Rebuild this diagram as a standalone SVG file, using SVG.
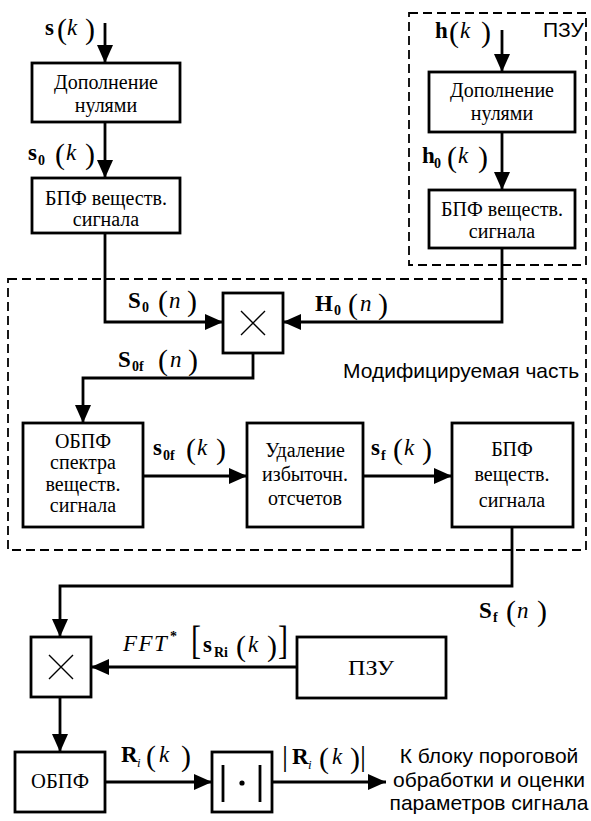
<svg xmlns="http://www.w3.org/2000/svg" width="591" height="821" viewBox="0 0 591 821">
<style>
.box{fill:#fff;stroke:#000;stroke-width:2.8}
.dash{fill:none;stroke:#000;stroke-width:1.8;stroke-dasharray:9 5}
.ln{fill:none;stroke:#000;stroke-width:2.8}
.thin{fill:none;stroke:#000;stroke-width:1.4}
.bt{font-family:"Liberation Serif","DejaVu Serif","Times New Roman",serif;font-size:20px;fill:#000;text-anchor:middle}
.st{font-family:"Liberation Sans",Arial,sans-serif;font-size:21px;fill:#000}
.mb{font-family:"Liberation Serif",serif;font-weight:bold;font-size:23px}
.mi{font-family:"Liberation Serif",serif;font-style:italic;font-size:23px}
.mp{font-family:"Liberation Serif",serif;font-size:30px}
.ms{font-family:"Liberation Serif",serif;font-weight:bold;font-size:14px}
.mis{font-family:"Liberation Serif",serif;font-style:italic;font-size:13px}
</style>
<defs>
<marker id="ah" markerUnits="userSpaceOnUse" markerWidth="18" markerHeight="16" refX="18" refY="8" orient="auto">
<path d="M0,0 L18,8 L0,16 z" fill="#000"/>
</marker>
</defs>

<g id="regions">
<rect id="rom-region" class="dash" x="409" y="13" width="177" height="252"/>
<text class="st" x="543" y="37" font-size="19">ПЗУ</text>
<rect id="mod-region" class="dash" x="8" y="279" width="578" height="271"/>
<text class="st" x="343" y="378">Модифицируемая часть</text>
</g>

<g id="connectors">
<line class="ln" x1="105" y1="23" x2="105" y2="63" marker-end="url(#ah)"/>
<line class="ln" x1="105" y1="122" x2="105" y2="178" marker-end="url(#ah)"/>
<polyline class="ln" points="105,233 105,322 223,322" marker-end="url(#ah)"/>
<line class="ln" x1="502" y1="30" x2="502" y2="72" marker-end="url(#ah)"/>
<line class="ln" x1="502" y1="132" x2="502" y2="190" marker-end="url(#ah)"/>
<polyline class="ln" points="502,248 502,322 283,322" marker-end="url(#ah)"/>
<polyline class="ln" points="253,353 253,378 83,378 83,423" marker-end="url(#ah)"/>
<line class="ln" x1="143" y1="476" x2="247" y2="476" marker-end="url(#ah)"/>
<line class="ln" x1="363" y1="476" x2="452" y2="476" marker-end="url(#ah)"/>
<polyline class="ln" points="512,527 512,586 60,586 60,637" marker-end="url(#ah)"/>
<line class="ln" x1="297" y1="667" x2="91" y2="667" marker-end="url(#ah)"/>
<line class="ln" x1="60" y1="697" x2="60" y2="752" marker-end="url(#ah)"/>
<line class="ln" x1="105" y1="782" x2="212" y2="782" marker-end="url(#ah)"/>
<line class="ln" x1="272" y1="782" x2="386" y2="782" marker-end="url(#ah)"/>
</g>

<g id="labels">
<text><tspan class="mb" x="45" y="35">s</tspan><tspan class="mp" x="57" y="39">(</tspan><tspan class="mi" x="67" y="35">k</tspan><tspan class="mp" x="85" y="39">)</tspan></text>
<text><tspan class="mb" x="28" y="160">s</tspan><tspan class="ms" x="38" y="165">0</tspan><tspan class="mp" x="55" y="164">(</tspan><tspan class="mi" x="66" y="160">k</tspan><tspan class="mp" x="85" y="164">)</tspan></text>
<text><tspan class="mb" x="435" y="38">h</tspan><tspan class="mp" x="449" y="42">(</tspan><tspan class="mi" x="460" y="38">k</tspan><tspan class="mp" x="481" y="42">)</tspan></text>
<text><tspan class="mb" x="422" y="163">h</tspan><tspan class="ms" x="434" y="168">0</tspan><tspan class="mp" x="447" y="167">(</tspan><tspan class="mi" x="458" y="163">k</tspan><tspan class="mp" x="478" y="167">)</tspan></text>
<text><tspan class="mb" x="128" y="308">S</tspan><tspan class="ms" x="142" y="312">0</tspan><tspan class="mp" x="158" y="311">(</tspan><tspan class="mi" x="169" y="308">n</tspan><tspan class="mp" x="187" y="311">)</tspan></text>
<text><tspan class="mb" x="315" y="311">H</tspan><tspan class="ms" x="334" y="315">0</tspan><tspan class="mp" x="348" y="314">(</tspan><tspan class="mi" x="360" y="311">n</tspan><tspan class="mp" x="378" y="314">)</tspan></text>
<text><tspan class="mb" x="118" y="367">S</tspan><tspan class="ms" x="132" y="371">0f</tspan><tspan class="mp" x="158" y="370">(</tspan><tspan class="mi" x="170" y="367">n</tspan><tspan class="mp" x="188" y="370">)</tspan></text>
<text><tspan class="mb" x="153" y="455">s</tspan><tspan class="ms" x="163" y="460">0f</tspan><tspan class="mp" x="186" y="459">(</tspan><tspan class="mi" x="197" y="455">k</tspan><tspan class="mp" x="216" y="459">)</tspan></text>
<text><tspan class="mb" x="371" y="455">s</tspan><tspan class="ms" x="381" y="460">f</tspan><tspan class="mp" x="393" y="459">(</tspan><tspan class="mi" x="404" y="455">k</tspan><tspan class="mp" x="422" y="459">)</tspan></text>
<text><tspan class="mb" x="479" y="618">S</tspan><tspan class="ms" x="493" y="622">f</tspan><tspan class="mp" x="506" y="621">(</tspan><tspan class="mi" x="517" y="618">n</tspan><tspan class="mp" x="537" y="621">)</tspan></text>
<text><tspan class="mi" x="123" y="651" font-size="24" letter-spacing="1.5">FFT</tspan><tspan class="ms" x="170" y="641">*</tspan></text>
<text class="mp" transform="translate(191,654) scale(1,1.3)">[</text>
<text><tspan class="mb" x="203" y="652">s</tspan><tspan class="ms" x="214" y="657">Ri</tspan><tspan class="mp" x="236" y="656">(</tspan><tspan class="mi" x="248" y="652">k</tspan><tspan class="mp" x="267" y="656">)</tspan></text>
<text class="mp" transform="translate(278,654) scale(1,1.3)">]</text>
<text><tspan class="mb" x="121" y="762">R</tspan><tspan class="mis" x="137" y="767">i</tspan><tspan class="mp" x="146" y="766">(</tspan><tspan class="mi" x="159" y="762">k</tspan><tspan class="mp" x="181" y="766">)</tspan></text>
<text><tspan class="mp" x="282" y="766" font-size="34">|</tspan><tspan class="mb" x="292" y="764">R</tspan><tspan class="mis" x="308" y="769">i</tspan><tspan class="mp" x="319" y="768">(</tspan><tspan class="mi" x="332" y="764">k</tspan><tspan class="mp" x="350" y="768">)</tspan><tspan class="mp" x="360" y="766" font-size="34">|</tspan></text>
<text class="st" text-anchor="middle"><tspan x="489" y="763">К блоку пороговой</tspan><tspan x="489" y="787">обработки и оценки</tspan><tspan x="489" y="810">параметров сигнала</tspan></text>
</g>

<g id="zero-pad-s">
<rect class="box" x="32" y="63" width="148" height="59"/>
<text class="bt"><tspan x="106" y="89">Дополнение</tspan><tspan x="106" y="112">нулями</tspan></text>
</g>
<g id="fft-s">
<rect class="box" x="32" y="178" width="148" height="55"/>
<text class="bt"><tspan x="106" y="205">БПФ веществ.</tspan><tspan x="106" y="226">сигнала</tspan></text>
</g>
<g id="zero-pad-h">
<rect class="box" x="429" y="72" width="146" height="60"/>
<text class="bt"><tspan x="502" y="97">Дополнение</tspan><tspan x="502" y="120">нулями</tspan></text>
</g>
<g id="fft-h">
<rect class="box" x="429" y="190" width="146" height="58"/>
<text class="bt"><tspan x="502" y="216">БПФ веществ.</tspan><tspan x="502" y="238">сигнала</tspan></text>
</g>
<g id="mult1">
<rect class="box" x="223" y="293" width="60" height="60"/>
<path class="thin" d="M241,311 L265,335 M265,311 L241,335"/>
</g>
<g id="ifft-spectrum">
<rect class="box" x="23" y="423" width="120" height="104"/>
<text class="bt"><tspan x="83" y="448">ОБПФ</tspan><tspan x="83" y="469">спектра</tspan><tspan x="83" y="491">веществ.</tspan><tspan x="83" y="512">сигнала</tspan></text>
</g>
<g id="remove-redundant">
<rect class="box" x="247" y="423" width="116" height="104"/>
<text class="bt"><tspan x="305" y="457">Удаление</tspan><tspan x="305" y="481">избыточн.</tspan><tspan x="305" y="505">отсчетов</tspan></text>
</g>
<g id="fft-real">
<rect class="box" x="452" y="423" width="121" height="104"/>
<text class="bt"><tspan x="512" y="456">БПФ</tspan><tspan x="512" y="481">веществ.</tspan><tspan x="512" y="507">сигнала</tspan></text>
</g>
<g id="mult2">
<rect class="box" x="31" y="637" width="60" height="60"/>
<path class="thin" d="M49,655 L73,679 M73,655 L49,679"/>
</g>
<g id="rom2">
<rect class="box" x="297" y="637" width="149" height="61"/>
<text class="bt" x="371" y="675" font-size="18" textLength="46" lengthAdjust="spacingAndGlyphs">ПЗУ</text>
</g>
<g id="ifft2">
<rect class="box" x="15" y="752" width="90" height="60"/>
<text class="bt" x="60" y="788" font-size="16" textLength="58" lengthAdjust="spacingAndGlyphs">ОБПФ</text>
</g>
<g id="abs">
<rect class="box" x="212" y="752" width="60" height="60"/>
<path class="ln" d="M223,765 V802 M260,765 V802" stroke-width="2"/>
<circle cx="242" cy="783" r="2.6" fill="#000"/>
</g>
</svg>
